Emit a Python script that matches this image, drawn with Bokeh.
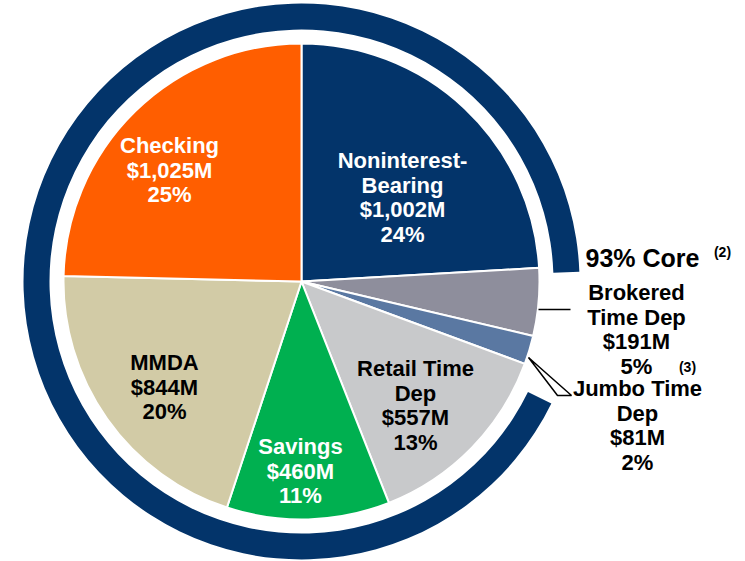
import math
from bokeh.plotting import figure
from bokeh.models import ColumnDataSource, Range1d
from bokeh.core.properties import value
from bokeh.embed import file_html
from bokeh.resources import INLINE

# ---------------- data ----------------
categories = ["Noninterest-Bearing", "Brokered Time Dep", "Jumbo Time Dep",
              "Retail Time Dep", "Savings", "MMDA", "Checking"]
amounts_m = [1002, 191, 81, 557, 460, 844, 1025]
percents = [24, 5, 2, 13, 11, 20, 25]
core_percent = 93
name_lines = [["Noninterest-", "Bearing"], ["Brokered", "Time Dep"], ["Jumbo Time", "Dep"],
              ["Retail Time", "Dep"], ["Savings"], ["MMDA"], ["Checking"]]

# ---------------- style / layout ----------------
colors = ["#03346A", "#8E8E9C", "#5A78A2", "#C8C9CB", "#00B050", "#D2CBA6", "#FF5E00"]
text_colors = ["white", "black", "black", "black", "white", "black", "white"]
# label anchors in picture pixels (x center, y of first line)
label_pos = [(402, 160), (636, 292), (637, 388), (415, 368), (300, 446), (164, 362), (169, 145)]
LINE_H = 24.5
FONT = "Liberation Sans"

W, H = 745, 561
def Y(py):  # picture pixel y -> data y
    return H - py

CX, CY = 301, Y(281)
R_PIE = 238
R_RING_IN, R_RING_OUT = 252, 278

p = figure(width=W, height=H, output_backend="svg", toolbar_location=None,
           x_range=Range1d(0, W), y_range=Range1d(0, H),
           x_axis_type=None, y_axis_type=None, min_border=0)
p.grid.visible = False
p.outline_line_color = None
p.background_fill_color = "white"
p.border_fill_color = "white"

# pie wedges (clockwise from 12 o'clock)
total = sum(amounts_m)
starts, ends = [], []
cum = 0.0
for a in amounts_m:
    e = math.pi / 2 - 2 * math.pi * cum / total
    cum += a
    s = math.pi / 2 - 2 * math.pi * cum / total
    starts.append(s)
    ends.append(e)

src = ColumnDataSource(dict(start=starts, end=ends, color=colors, cat=categories))
p.wedge(x=CX, y=CY, radius=R_PIE, start_angle="start", end_angle="end",
        fill_color="color", line_color="white", line_width=2, source=src)

# outer "core" ring covering the core share
pad_top = math.radians(1.3)
pad_bot = math.radians(1.5)
ring_start = starts[0] - pad_top  # end of noninterest-bearing slice
gap = 2 * math.pi * (100 - core_percent) / 100 + pad_top + pad_bot
p.annular_wedge(x=CX, y=CY, inner_radius=R_RING_IN, outer_radius=R_RING_OUT,
                start_angle=ring_start, end_angle=ring_start - gap,
                direction="anticlock", fill_color="#03346A", line_color=None)

# leader lines
p.line(x=[538, 570], y=[Y(309), Y(309)], line_color="black", line_width=1.5)
p.patch(x=[528, 557, 571], y=[Y(357), Y(395), Y(395)], fill_color=None,
        line_color="black", line_width=1.5)

# labels
tx, ty, tt, tc = [], [], [], []
for i in range(len(categories)):
    lines = name_lines[i] + ["${:,}M".format(amounts_m[i]), "{}%".format(percents[i])]
    x0, y0 = label_pos[i]
    for j, ln in enumerate(lines):
        tx.append(x0)
        ty.append(Y(y0 + j * LINE_H))
        tt.append(ln)
        tc.append(text_colors[i])
p.text(x=tx, y=ty, text=tt, text_color=tc, text_font=value(FONT), text_font_style="bold",
       text_font_size="22px", text_align="center", text_baseline="middle")

p.text(x=[642], y=[Y(257)], text=["{}% Core".format(core_percent)], text_color="black",
       text_font=value(FONT), text_font_style="bold", text_font_size="25px",
       text_align="center", text_baseline="middle")
p.text(x=[722, 687], y=[Y(251), Y(366)], text=["(2)", "(3)"], text_color="black",
       text_font=value(FONT), text_font_style="bold", text_font_size="14px",
       text_align="center", text_baseline="middle")

open("out.html", "w").write(file_html(p, INLINE))
